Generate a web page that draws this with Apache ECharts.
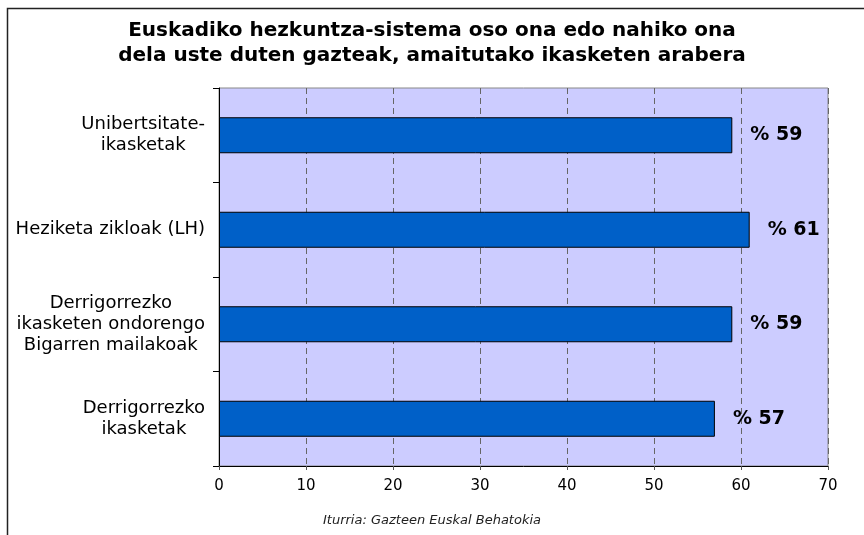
<!DOCTYPE html>
<html>
<head>
<meta charset="utf-8">
<script src="https://cdn.jsdelivr.net/npm/echarts@6/dist/echarts.min.js"></script>
<style>
  html, body { margin: 0; padding: 0; background: #fff; }
  #chart { width: 864px; height: 535px; }
</style>
</head>
<body>
<div id="chart"></div>
<script>
// ikasketa motak (goitik behera)
const categories = [
  'Unibertsitate-\nikasketak',
  'Heziketa zikloak (LH)',
  'Derrigorrezko\nikasketen ondorengo\nBigarren mailakoak',
  'Derrigorrezko\nikasketak'
]
// gazteen ehunekoa
const values = [59, 61, 59, 57]
// x ardatzaren eskala
const xMin = 0
const xMax = 70
const xStep = 10

const chart = echarts.init(document.getElementById('chart'))

const option = {
  backgroundColor: '#fff',
  animation: false,
  title: {
    text: 'Euskadiko hezkuntza-sistema oso ona edo nahiko ona\ndela uste duten gazteak, amaitutako ikasketen arabera',
    left: 'center',
    top: 13,
    textStyle: {
      fontFamily: 'DejaVu Sans',
      fontWeight: 'bold',
      fontSize: 20,
      lineHeight: 25,
      color: '#000'
    }
  },
  graphic: [
    // kanpoko markoa
    {
      type: 'rect',
      shape: { x: 7.5, y: 8.5, width: 1000, height: 1000 },
      style: { fill: 'none', stroke: '#222', lineWidth: 1.5 },
      silent: true
    },
    {
      type: 'text',
      left: 'center',
      top: 514,
      style: {
        text: 'Iturria: Gazteen Euskal Behatokia',
        font: 'italic 13px "DejaVu Sans"',
        fill: '#222'
      }
    }
  ],
  grid: {
    left: 219,
    right: 36,
    top: 88,
    bottom: 69,
    show: true,
    backgroundColor: '#CCCCFF',
    borderColor: '#888',
    borderWidth: 1
  },
  xAxis: {
    type: 'value',
    min: xMin,
    max: xMax,
    interval: xStep,
    axisLine: { show: true, lineStyle: { color: '#000', width: 1 } },
    axisTick: { show: true, length: 4, lineStyle: { color: '#555' } },
    axisLabel: {
      margin: 13,
      fontFamily: 'DejaVu Sans',
      fontSize: 15,
      color: '#000'
    },
    splitLine: {
      show: true,
      lineStyle: { color: '#666', type: [6, 4], width: 1 }
    }
  },
  yAxis: {
    type: 'category',
    inverse: true,
    data: categories,
    axisLine: { show: true, lineStyle: { color: '#000', width: 1 } },
    axisTick: { show: true, length: 6, inside: false, lineStyle: { color: '#000' } },
    axisLabel: {
      margin: 14,
      align: 'right',
      fontFamily: 'DejaVu Sans',
      fontSize: 18,
      color: '#000',
      formatter: function (v) {
        return v.split('\n').map(s => '{c|' + s + '}').join('\n')
      },
      rich: {
        c: { align: 'center', lineHeight: 21, fontSize: 18, fontFamily: 'DejaVu Sans' }
      }
    },
    splitLine: { show: false }
  },
  series: [
    {
      type: 'bar',
      data: values,
      barWidth: 36,
      itemStyle: {
        color: '#0060C8',
        borderColor: '#000',
        borderWidth: 1
      },
      label: {
        show: true,
        position: 'right',
        distance: 18,
        formatter: '% {c}',
        fontFamily: 'DejaVu Sans',
        fontWeight: 'bold',
        fontSize: 19,
        color: '#000'
      }
    }
  ]
}

chart.setOption(option)
</script>
</body>
</html>
